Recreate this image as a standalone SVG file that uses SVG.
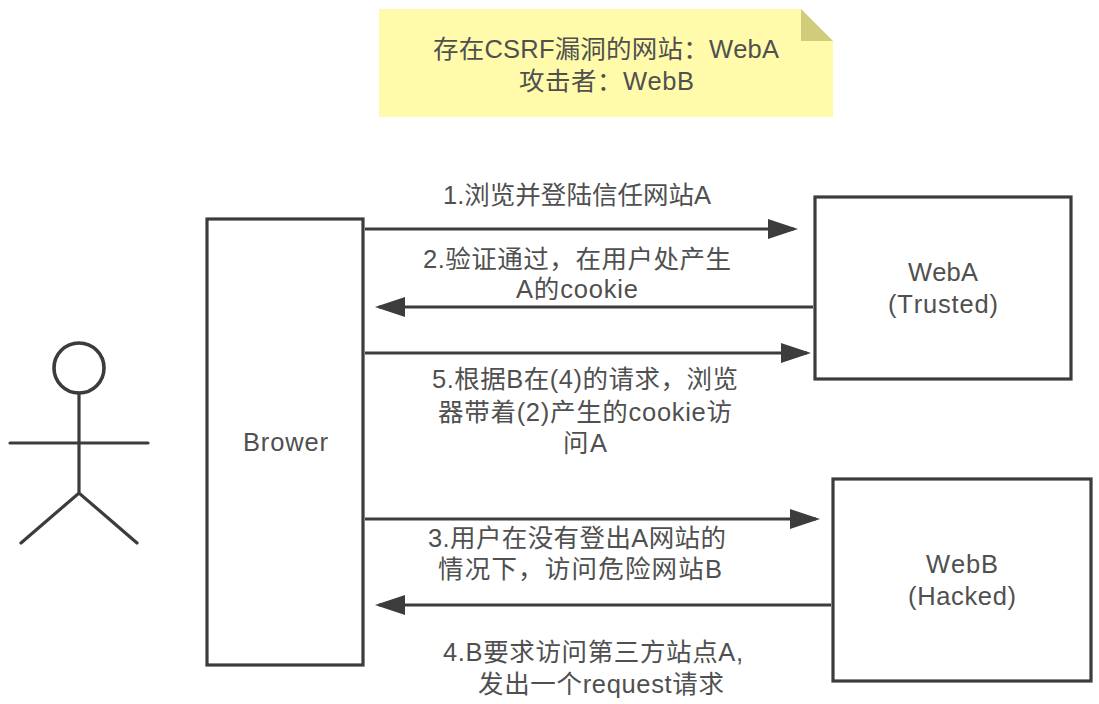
<svg xmlns="http://www.w3.org/2000/svg" width="1099" height="704" viewBox="0 0 1099 704">
<style>
text{font-family:"Liberation Sans","Noto Sans CJK SC",sans-serif;font-size:25.5px;fill:#505050;text-anchor:middle;font-kerning:none}
.b{fill:#fff;stroke:#3c3c3c;stroke-width:3.2}
.l{fill:none;stroke:#3c3c3c;stroke-width:3.2;stroke-linecap:round}
.c{fill:none;stroke:#3c3c3c;stroke-width:3.2}
</style>
<defs><marker id="a" markerUnits="userSpaceOnUse" markerWidth="32" markerHeight="22" refX="26" refY="11" orient="auto"><path d="M0 1L30 11L0 21Z" fill="#3c3c3c"/></marker></defs>
<rect width="1099" height="704" fill="#fff"/>
<g id="note"><path d="M379 9H801L833 41V117H379Z" fill="#fffbab"/><path d="M801 9L833 41H801Z" fill="#d0cc7c"/>
<text x="606" y="58" textLength="346">存在CSRF漏洞的网站：WebA</text><text x="606.500" y="90" textLength="175">攻击者：WebB</text></g>
<g id="actor"><circle cx="79" cy="368" r="25" fill="none" stroke="#3c3c3c" stroke-width="3.6"/><path class="l" d="M79 393V493M10 443H148M21 543L79 493L137 543"/></g>
<g id="brower"><rect class="b" x="207" y="219" width="156" height="446"/><text x="285.500" y="451" textLength="85">Brower</text></g>
<g id="weba"><rect class="b" x="815" y="197" width="256" height="182"/><text x="943" y="281" textLength="70">WebA</text><text x="943" y="313" textLength="110">(Trusted)</text></g>
<g id="webb"><rect class="b" x="833" y="479" width="258" height="202"/><text x="962" y="573" textLength="72">WebB</text><text x="962" y="605" textLength="108">(Hacked)</text></g>
<g id="connectors">
<path class="c" marker-end="url(#a)" d="M365 229H794"/>
<path class="c" marker-end="url(#a)" d="M813 307H379"/>
<path class="c" marker-end="url(#a)" d="M365 353H807"/>
<path class="c" marker-end="url(#a)" d="M365 519H816"/>
<path class="c" marker-end="url(#a)" d="M831 605H379"/>
</g>
<g id="labels">
<text x="577" y="204" textLength="268">1.浏览并登陆信任网站A</text>
<text x="577" y="268" textLength="308">2.验证通过，在用户处产生</text><text x="577" y="298" textLength="122">A的cookie</text>
<text x="585" y="388" textLength="306">5.根据B在(4)的请求，浏览</text><text x="585" y="421" textLength="294">器带着(2)产生的cookie访</text><text x="585" y="452" textLength="44">问A</text>
<text x="577" y="547" textLength="298">3.用户在没有登出A网站的</text><text x="580" y="578" textLength="284">情况下，访问危险网站B</text>
<text x="593" y="661" textLength="300">4.B要求访问第三方站点A,</text><text x="601" y="693" textLength="246">发出一个request请求</text>
</g>
</svg>
